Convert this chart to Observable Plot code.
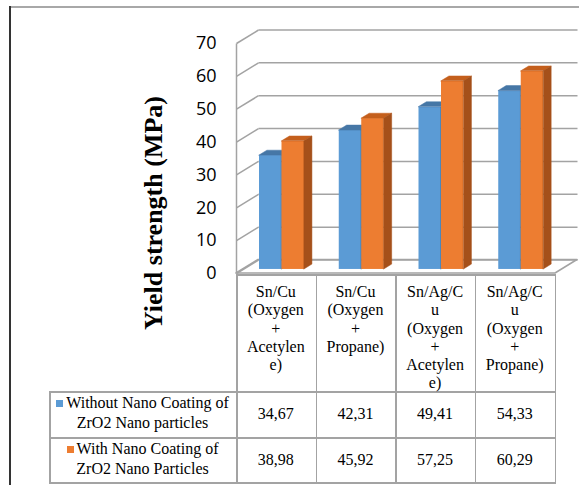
<!DOCTYPE html>
<html><head><meta charset="utf-8">
<script src="https://cdn.jsdelivr.net/npm/d3@7"></script>
<script src="https://cdn.jsdelivr.net/npm/@observablehq/plot@0.6"></script>
<style>
html,body{margin:0;padding:0;background:#fff;}
#wrap{position:relative;width:579px;height:485px;overflow:hidden;background:#fff;}
#wrap svg{position:absolute;left:0;top:0;}
.hl{position:absolute;height:1.5px;background:#a3a3a3;}
.vl{position:absolute;width:1.5px;background:#a3a3a3;}
.cell{position:absolute;font-family:"Liberation Serif","Times New Roman",serif;font-size:16px;color:#000;text-align:center;white-space:nowrap;}
.ytitle{position:absolute;font-family:"Liberation Serif","Times New Roman",serif;font-weight:bold;font-size:26px;white-space:nowrap;color:#000;line-height:1;}
.sq{display:inline-block;width:7px;height:7px;margin-right:3px;vertical-align:1px;}
</style></head><body><div id="wrap"></div>
<script>
// ---- data ----
const categories = ["Sn/Cu (Oxygen + Acetylene)", "Sn/Cu (Oxygen + Propane)", "Sn/Ag/Cu (Oxygen + Acetylene)", "Sn/Ag/Cu (Oxygen + Propane)"];
const categoryLabelLines = [
  ["Sn/Cu", "(Oxygen", "+", "Acetylen", "e)"],
  ["Sn/Cu", "(Oxygen", "+", "Propane)"],
  ["Sn/Ag/C", "u", "(Oxygen", "+", "Acetylen", "e)"],
  ["Sn/Ag/C", "u", "(Oxygen", "+", "Propane)"]
];
const seriesNames = ["Without Nano Coating of ZrO2 Nano particles", "With Nano Coating of ZrO2 Nano Particles"];
const seriesLabelLines = [["Without Nano Coating of", "ZrO2 Nano particles"], ["With Nano Coating of", "ZrO2 Nano Particles"]];
const withoutCoating = [34.67, 42.31, 49.41, 54.33];
const withCoating = [38.98, 45.92, 57.25, 60.29];
const yTicks = [0, 10, 20, 30, 40, 50, 60, 70];
const yTitle = "Yield strength (MPa)";

// ---- layout / style ----
const W = 579, H = 485;
const FX0 = 236, FX1 = 555, FY0 = 273, FY1 = 43;
const GRID = "#a3a3a3";
const colors = [
  {front: "#5b9bd5", top: "#4677a6", side: "#3c6b97"},
  {front: "#ed7d31", top: "#c45f1c", side: "#a5501a"}
];
const nCat = categories.length;
const pxX = (FX1 - FX0) / nCat, pxY = (FY0 - FY1) / 70;
const depthX = 22 / pxX, depthY = 13.5 / pxY;
const barFront = 0.3, barDepth = 0.36;
const barOff = 16.4 / pxX, barW = 22.5 / pxX;

const seriesValues = [withoutCoating, withCoating];

const barMarks = [];
seriesValues.forEach((vals, s) => {
  const fronts = [], tops = [], sides = [];
  vals.forEach((v, i) => {
    const x1 = i + barOff + s * barW + barFront * depthX;
    const x2 = x1 + barW;
    const yb = barFront * depthY;
    const yt = yb + v;
    const ddx = barDepth * depthX, ddy = barDepth * depthY;
    fronts.push({x1, x2, y1: yb, y2: yt, cat: categories[i], v});
    tops.push({z: i, y: yt, x1, x2}, {z: i, y: yt + ddy, x1: x1 + ddx, x2: x2 + ddx});
    sides.push({z: i, x: x2, y1: yb, y2: yt}, {z: i, x: x2 + ddx, y1: yb + ddy, y2: yt + ddy});
  });
  barMarks.push(
    Plot.rect(fronts, {x1: "x1", x2: "x2", y1: "y1", y2: "y2", fill: colors[s].front}),
    Plot.areaX(tops, {y: "y", x1: "x1", x2: "x2", z: "z", fill: colors[s].top, stroke: colors[s].top, strokeWidth: 0.5}),
    Plot.areaY(sides, {x: "x", y1: "y1", y2: "y2", z: "z", fill: colors[s].side, stroke: colors[s].side, strokeWidth: 0.5})
  );
});

const floor = [{y: 0, x1: 0, x2: nCat}, {y: depthY, x1: depthX, x2: nCat + depthX}];

const chart = Plot.plot({
  width: W, height: H,
  marginLeft: FX0, marginRight: W - FX1, marginTop: FY1, marginBottom: H - FY0,
  style: {background: "transparent", overflow: "visible"},
  x: {domain: [0, nCat], axis: null},
  y: {domain: [0, 70]},
  marks: [
    Plot.areaX(floor, {y: "y", x1: "x1", x2: "x2", fill: "white", stroke: GRID, strokeWidth: 1.5}),
    Plot.link(yTicks, {x1: () => 0, y1: d => d, x2: () => depthX, y2: d => d + depthY, stroke: GRID, strokeWidth: 1.5}),
    Plot.link(yTicks, {x1: () => depthX, y1: d => d + depthY, x2: () => nCat + depthX, y2: d => d + depthY, stroke: GRID, strokeWidth: 1.5}),
    Plot.link([0], {x1: () => 0, y1: () => 0, x2: () => 0, y2: () => 70, stroke: GRID, strokeWidth: 1.5}),
    ...barMarks,
    Plot.axisY({ticks: yTicks, tickSize: 0, tickPadding: 20, label: null, fontSize: 18, fontFamily: "Open Sans", fill: "#000"})
  ]
});

const wrap = document.getElementById("wrap");
wrap.appendChild(chart);

function addDiv(cls, style, html) {
  const d = document.createElement("div");
  d.className = cls;
  Object.assign(d.style, style);
  if (html != null) d.innerHTML = html;
  wrap.appendChild(d);
  return d;
}

// outer frame
addDiv("", {position: "absolute", left: "9px", top: "6px", width: "570px", height: "1.5px", background: "#a8a8a8"});
addDiv("", {position: "absolute", left: "9px", top: "6px", width: "2px", height: "479px", background: "#333"});

// y title
addDiv("ytitle", {left: "154px", top: "213px", transform: "translate(-50%,-50%) rotate(-90deg)"}, yTitle);

// data table
const colX = d3.range(nCat + 1).map(i => FX0 + i * (FX1 - 0.5 - FX0) / nCat);
const tLeft = 49, tTop = 274, rowTops = [391, 437], tBottom = 482;
addDiv("hl", {left: FX0 + "px", top: tTop + "px", width: (colX[nCat] - FX0 + 1.5) + "px"});
[...rowTops, tBottom].forEach(y => addDiv("hl", {left: tLeft + "px", top: y + "px", width: (colX[nCat] - tLeft + 1.5) + "px"}));
colX.forEach(x => addDiv("vl", {left: x + "px", top: tTop + "px", height: (tBottom - tTop + 1.5) + "px"}));
addDiv("vl", {left: tLeft + "px", top: rowTops[0] + "px", height: (tBottom - rowTops[0] + 1.5) + "px"});

categoryLabelLines.forEach((lines, i) => {
  addDiv("cell", {left: colX[i] + "px", width: (colX[i + 1] - colX[i]) + "px", top: "283px", lineHeight: "18.3px"}, lines.join("<br>"));
});
const fmt = v => v.toFixed(2).replace(".", ",");
seriesValues.forEach((vals, s) => {
  const top = rowTops[s], bot = s + 1 < rowTops.length ? rowTops[s + 1] : tBottom;
  const mid = (top + bot) / 2;
  addDiv("cell", {left: tLeft + "px", width: (FX0 - tLeft) + "px", top: (mid - 21) + "px", lineHeight: "20px"},
    `<span class="sq" style="background:${colors[s].front}"></span>` + seriesLabelLines[s].join("<br>"));
  vals.forEach((v, i) => {
    addDiv("cell", {left: colX[i] + "px", width: (colX[i + 1] - colX[i]) + "px", top: (mid - 10) + "px", lineHeight: "20px"}, fmt(v));
  });
});
</script></body></html>
